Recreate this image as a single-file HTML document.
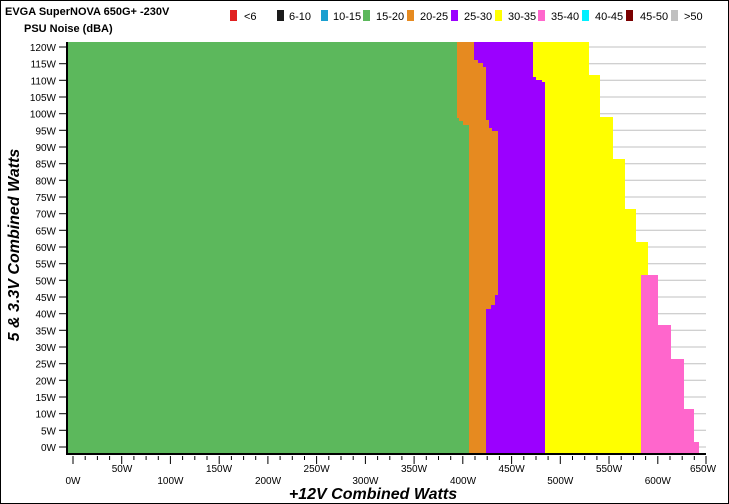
<!DOCTYPE html>
<html><head><meta charset="utf-8"><style>
body{margin:0;background:#fff}
svg{display:block;font-family:"Liberation Sans",sans-serif}
</style></head><body>
<svg width="729" height="504" viewBox="0 0 729 504" xmlns="http://www.w3.org/2000/svg">
<rect x="0.5" y="0.5" width="728" height="503" fill="#fff" stroke="#000"/>
<text x="5" y="15" font-size="11" font-weight="bold">EVGA SuperNOVA 650G+ -230V</text>
<text x="24" y="32" font-size="11" font-weight="bold">PSU Noise (dBA)</text>
<g font-size="11">
<rect x="230" y="10" width="7" height="11" fill="#e02020"/><text x="244" y="20">&lt;6</text>
<rect x="277" y="10" width="7" height="11" fill="#1a1a1a"/><text x="289" y="20">6-10</text>
<rect x="321" y="10" width="7" height="11" fill="#1a9fd0"/><text x="333" y="20">10-15</text>
<rect x="363" y="10" width="7" height="11" fill="#5cb85c"/><text x="376" y="20">15-20</text>
<rect x="407" y="10" width="7" height="11" fill="#e68a20"/><text x="420" y="20">20-25</text>
<rect x="451" y="10" width="7" height="11" fill="#9b00ff"/><text x="464" y="20">25-30</text>
<rect x="495" y="10" width="7" height="11" fill="#ffff00"/><text x="508" y="20">30-35</text>
<rect x="538" y="10" width="7" height="11" fill="#ff66cc"/><text x="551" y="20">35-40</text>
<rect x="582" y="10" width="7" height="11" fill="#00f0ff"/><text x="595" y="20">40-45</text>
<rect x="626" y="10" width="7" height="11" fill="#7a0000"/><text x="640" y="20">45-50</text>
<rect x="671" y="10" width="7" height="11" fill="#c0c0c0"/><text x="684" y="20">&gt;50</text>
</g>
<g stroke="#c0c0c0" stroke-width="1">
<line x1="67" y1="47" x2="706" y2="47"/><line x1="67" y1="63.7" x2="706" y2="63.7"/><line x1="67" y1="80.3" x2="706" y2="80.3"/><line x1="67" y1="97" x2="706" y2="97"/><line x1="67" y1="113.7" x2="706" y2="113.7"/><line x1="67" y1="130.3" x2="706" y2="130.3"/><line x1="67" y1="147" x2="706" y2="147"/><line x1="67" y1="163.7" x2="706" y2="163.7"/><line x1="67" y1="180.3" x2="706" y2="180.3"/><line x1="67" y1="197" x2="706" y2="197"/><line x1="67" y1="213.7" x2="706" y2="213.7"/><line x1="67" y1="230.3" x2="706" y2="230.3"/><line x1="67" y1="247" x2="706" y2="247"/><line x1="67" y1="263.7" x2="706" y2="263.7"/><line x1="67" y1="280.3" x2="706" y2="280.3"/><line x1="67" y1="297" x2="706" y2="297"/><line x1="67" y1="313.7" x2="706" y2="313.7"/><line x1="67" y1="330.3" x2="706" y2="330.3"/><line x1="67" y1="347" x2="706" y2="347"/><line x1="67" y1="363.7" x2="706" y2="363.7"/><line x1="67" y1="380.3" x2="706" y2="380.3"/><line x1="67" y1="397" x2="706" y2="397"/><line x1="67" y1="413.7" x2="706" y2="413.7"/><line x1="67" y1="430.3" x2="706" y2="430.3"/><line x1="67" y1="447" x2="706" y2="447"/>
</g>
<polygon fill="#ff66cc" points="641,275 658,275 658,325 671,325 671,359 684,359 684,409 694,409 694,442 699,442 699,453 641,453"/>
<polygon fill="#ffff00" points="68,42 589,42 589,75 600,75 600,117 613,117 613,159 625,159 625,209 636,209 636,242 648,242 648,275 641,275 641,453 68,453"/>
<polygon fill="#9b00ff" points="68,42 533,42 533,77 536,77 536,80 542,80 542,82 545,82 545,453 68,453"/>
<polygon fill="#e68a20" points="68,42 474,42 474,60 478,60 478,63 483,63 483,67 486,67 486,120 489,120 489,128 492,128 492,131 498,131 498,295 495,295 495,305 491,305 491,309 486,309 486,453 68,453"/>
<polygon fill="#5cb85c" points="68,42 457,42 457,118 459,118 459,121 463,121 463,125 469,125 469,453 68,453"/>
<g font-size="10" text-anchor="end" stroke="#000">
</g>
<g font-size="10" text-anchor="end">
<text x="56" y="51">120W</text><text x="56" y="67.7">115W</text><text x="56" y="84.3">110W</text><text x="56" y="101">105W</text><text x="56" y="117.7">100W</text><text x="56" y="134.3">95W</text><text x="56" y="151">90W</text><text x="56" y="167.7">85W</text><text x="56" y="184.3">80W</text><text x="56" y="201">75W</text><text x="56" y="217.7">70W</text><text x="56" y="234.3">65W</text><text x="56" y="251">60W</text><text x="56" y="267.7">55W</text><text x="56" y="284.3">50W</text><text x="56" y="301">45W</text><text x="56" y="317.7">40W</text><text x="56" y="334.3">35W</text><text x="56" y="351">30W</text><text x="56" y="367.7">25W</text><text x="56" y="384.3">20W</text><text x="56" y="401">15W</text><text x="56" y="417.7">10W</text><text x="56" y="434.3">5W</text><text x="56" y="451">0W</text>
</g>
<g stroke="#000" stroke-width="1">
<line x1="59" y1="47" x2="67" y2="47"/><line x1="59" y1="63.7" x2="67" y2="63.7"/><line x1="59" y1="80.3" x2="67" y2="80.3"/><line x1="59" y1="97" x2="67" y2="97"/><line x1="59" y1="113.7" x2="67" y2="113.7"/><line x1="59" y1="130.3" x2="67" y2="130.3"/><line x1="59" y1="147" x2="67" y2="147"/><line x1="59" y1="163.7" x2="67" y2="163.7"/><line x1="59" y1="180.3" x2="67" y2="180.3"/><line x1="59" y1="197" x2="67" y2="197"/><line x1="59" y1="213.7" x2="67" y2="213.7"/><line x1="59" y1="230.3" x2="67" y2="230.3"/><line x1="59" y1="247" x2="67" y2="247"/><line x1="59" y1="263.7" x2="67" y2="263.7"/><line x1="59" y1="280.3" x2="67" y2="280.3"/><line x1="59" y1="297" x2="67" y2="297"/><line x1="59" y1="313.7" x2="67" y2="313.7"/><line x1="59" y1="330.3" x2="67" y2="330.3"/><line x1="59" y1="347" x2="67" y2="347"/><line x1="59" y1="363.7" x2="67" y2="363.7"/><line x1="59" y1="380.3" x2="67" y2="380.3"/><line x1="59" y1="397" x2="67" y2="397"/><line x1="59" y1="413.7" x2="67" y2="413.7"/><line x1="59" y1="430.3" x2="67" y2="430.3"/><line x1="59" y1="447" x2="67" y2="447"/>
</g>
<line x1="67" y1="42" x2="67" y2="455" stroke="#000" stroke-width="2"/>
<line x1="66" y1="454" x2="706" y2="454" stroke="#000" stroke-width="2"/>
<g stroke="#000" stroke-width="1" id="xt"></g>
<path stroke="#000" stroke-width="1" d="M73,456v8M85.2,456v4M97.4,456v4M109.6,456v4M121.7,456v8M133.9,456v4M146.1,456v4M158.3,456v4M170.4,456v8M182.6,456v4M194.8,456v4M207,456v4M219.2,456v8M231.4,456v4M243.6,456v4M255.7,456v4M267.9,456v8M280.1,456v4M292.3,456v4M304.5,456v4M316.6,456v8M328.8,456v4M341,456v4M353.2,456v4M365.4,456v8M377.6,456v4M389.8,456v4M401.9,456v4M414.1,456v8M426.3,456v4M438.5,456v4M450.7,456v4M462.8,456v8M475,456v4M487.2,456v4M499.4,456v4M511.6,456v8M523.8,456v4M536,456v4M548.1,456v4M560.3,456v8M572.5,456v4M584.7,456v4M596.9,456v4M609,456v8M621.2,456v4M633.4,456v4M645.6,456v4M657.8,456v8M670,456v4M682.2,456v4M694.3,456v4M706,456v8"/>
<g font-size="10" text-anchor="middle">
<text x="122" y="472">50W</text><text x="219" y="472">150W</text><text x="316.6" y="472">250W</text><text x="414" y="472">350W</text><text x="511.6" y="472">450W</text><text x="609" y="472">550W</text><text x="703" y="472">650W</text>
<text x="73" y="484">0W</text><text x="170.4" y="484">100W</text><text x="268" y="484">200W</text><text x="365.4" y="484">300W</text><text x="463" y="484">400W</text><text x="560.3" y="484">500W</text><text x="657.8" y="484">600W</text>
</g>
<text x="373" y="499" font-size="16" font-weight="bold" font-style="italic" text-anchor="middle">+12V Combined Watts</text>
<text transform="translate(19,245) rotate(-90)" font-size="16" font-weight="bold" font-style="italic" text-anchor="middle">5 &amp; 3.3V Combined Watts</text>
</svg>
</body></html>
